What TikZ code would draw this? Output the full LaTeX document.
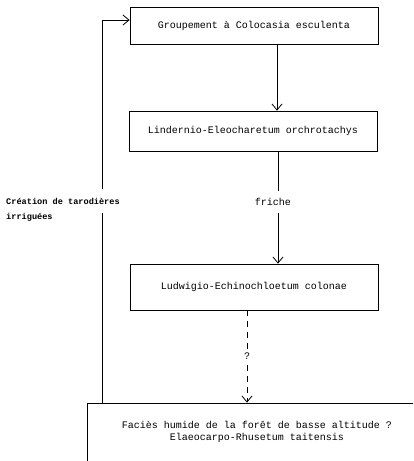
\documentclass[tikz,border=0pt]{standalone}
\usepackage{fontspec}
\setmonofont{Liberation Mono}
\usetikzlibrary{arrows.meta}
\begin{document}
\begin{tikzpicture}[x=1pt,y=-1pt,
  box/.style={draw,line width=0.8pt,inner sep=0pt,font=\ttfamily\fontsize{10}{12}\selectfont},
  arr/.style={line width=0.8pt,-{Straight Barb[length=6pt,width=10pt]}},
  lbl/.style={fill=white,inner sep=1pt,font=\ttfamily\fontsize{10}{12}\selectfont},
  side/.style={anchor=west,inner sep=1pt,font=\ttfamily\bfseries\fontsize{8.6}{12}\selectfont}]
\useasboundingbox (0,0) rectangle (413,461);
\clip (0,0) rectangle (413,461);
\node[box,minimum width=248pt,minimum height=37pt] (b1) at (254,25.5) {Groupement à Colocasia esculenta};
\node[box,minimum width=248pt,minimum height=40pt] (b2) at (253,131) {Lindernio-Eleocharetum orchrotachys};
\node[box,minimum width=248pt,minimum height=46pt] (b3) at (254,287) {Ludwigio-Echinochloetum colonae};
\node[box,minimum width=340pt,minimum height=70pt,align=center,text depth=14pt] (b4) at (257,438) {Faciès humide de la forêt de basse altitude ?\\Elaeocarpo-Rhusetum taitensis};
\draw[arr] (b1.south -| 277,0) -- (b2.north -| 277,0);
\draw[arr] (b2.south -| 278,0) -- node[lbl,pos=0.45,xshift=-5pt,minimum height=22pt] (fr) {friche} (b3.north -| 278,0);
\draw[arr,dashed,dash pattern=on 6pt off 5pt] (b3.south -| 247,0) -- node[lbl,pos=0.5] (q) {?} (b4.north -| 247,0);
\coordinate (fbb) at (102,403);
\coordinate (fbt) at (102,20);
\draw[arr] (fbb) -- (fbt) -- (fbt -| b1.west);
\node[side,fill=white,minimum height=24pt] (cr1) at (5,201) {Création de tarodières};
\node[side] (cr2) at (5,217) {irriguées};
\end{tikzpicture}
\end{document}
